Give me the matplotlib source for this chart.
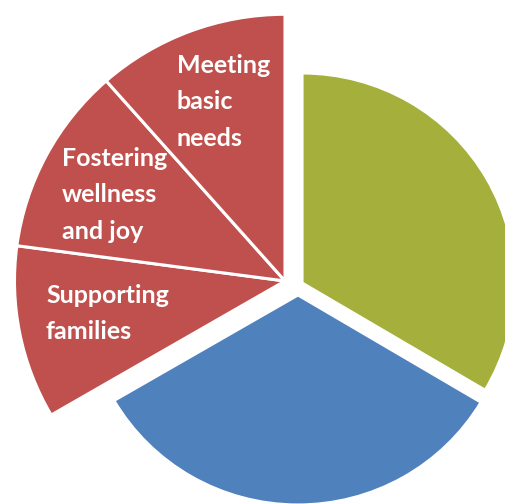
import matplotlib
matplotlib.use("Agg")
import matplotlib.pyplot as plt
import numpy as np

# ---- data ----
categories = ["", "", "Supporting\nfamilies", "Fostering\nwellness\nand joy", "Meeting\nbasic\nneeds"]
values = [33.55, 33.1, 10.5, 11.4, 11.5]
groups = ["green", "blue", "red", "red", "red"]

# ---- style ----
colors = {"green": "#A5AF3B", "blue": "#4F81BD", "red": "#C0504D"}
group_explode = {"green": 0.022, "blue": 0.046, "red": 0.0644}
group_dir = {"green": 30.0, "blue": -90.0, "red": 161.4}
group_radius = {"green": 1.0, "blue": 1.0, "red": 1.27}
label_pos = {  # axes-fraction positions for label tops
    2: (46 / 506, 1 - 284 / 504),
    3: (62 / 506, 1 - 147 / 504),
    4: (177 / 506, 1 - 54 / 504),
}

plt.rcParams['font.family'] = ['Lato', 'DejaVu Sans']

fig = plt.figure(figsize=(5.06, 5.04), dpi=100)
ax = fig.add_axes([0, 0, 1, 1])

wedges, _ = ax.pie(values, startangle=90, counterclock=False,
                   colors=[colors[g] for g in groups],
                   wedgeprops=dict(edgecolor="white", linewidth=2.2))

for w, g in zip(wedges, groups):
    a = np.deg2rad(group_dir[g])
    e = group_explode[g]
    w.set_center((e * np.cos(a), e * np.sin(a)))
    w.set_radius(group_radius[g])

for i, (x, y) in label_pos.items():
    ax.text(x, y, categories[i], transform=ax.transAxes, ha="left", va="top",
            color="white", fontsize=18, fontweight="bold", linespacing=1.7)

ax.set_aspect("auto")
ax.set_xlim(-298 / 213, (506 - 298) / 213)
ax.set_ylim(-(504 - 285.3) / 210, 285.3 / 210)
ax.axis("off")

fig.savefig("out.png", dpi=100, facecolor="white")
